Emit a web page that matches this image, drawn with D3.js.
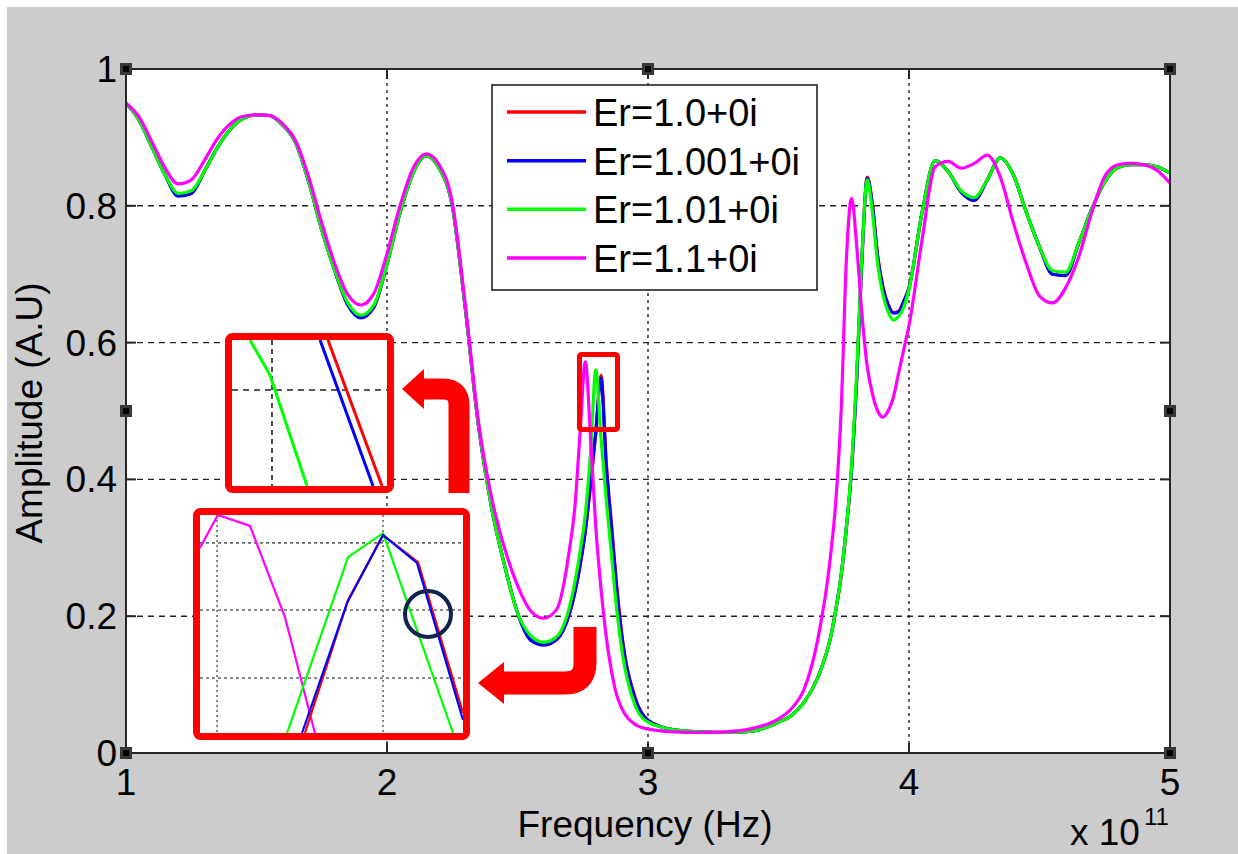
<!DOCTYPE html>
<html><head><meta charset="utf-8">
<script src="https://cdn.jsdelivr.net/npm/d3@7"></script>
<style>html,body{margin:0;padding:0;background:#fff;overflow:hidden}</style>
</head><body><svg id="c" width="1238" height="854"></svg>
<script>
// Frequency in units of 1e11 Hz
const freq = [1.00,1.05,1.10,1.15,1.20,1.25,1.30,1.35,1.40,1.45,1.50,1.55,1.60,1.65,1.70,1.75,1.80,1.85,1.90,1.95,2.00,2.05,2.10,2.15,2.20,2.25,2.30,2.35,2.40,2.45,2.50,2.55,2.60,2.65,2.70,
  2.72,2.74,2.76,2.78,2.80,2.82,2.84,2.86,2.88,2.90,2.95,3.00,3.10,3.20,3.30,3.40,3.50,3.55,3.60,3.65,3.70,
  3.72,3.74,3.76,3.78,3.80,3.82,3.84,3.86,3.88,3.90,3.92,3.94,3.96,3.98,4.00,
  4.05,4.10,4.15,4.20,4.25,4.30,4.35,4.40,4.45,4.50,4.55,4.60,4.65,4.70,4.75,4.80,4.85,4.90,4.95,5.00];

const ampEr1_0 = [0.950,0.925,0.885,0.845,0.815,0.818,0.850,0.885,0.912,0.928,0.933,0.932,0.918,0.892,0.835,0.765,0.705,0.655,0.637,0.652,0.715,0.790,0.848,0.873,0.855,0.800,0.650,0.480,0.360,0.275,0.205,0.166,0.158,0.166,0.205,
  0.235,0.275,0.325,0.392,0.468,0.552,0.425,0.335,0.245,0.173,0.082,0.048,0.034,0.031,0.030,0.032,0.045,0.055,0.075,0.110,0.170,
  0.210,0.258,0.328,0.415,0.550,0.725,0.842,0.802,0.727,0.682,0.656,0.644,0.646,0.661,0.680,
  0.790,0.866,0.850,0.820,0.808,0.838,0.870,0.845,0.790,0.740,0.700,0.698,0.745,0.795,0.835,0.856,0.860,0.860,0.857,0.848];

const ampEr1_001 = [0.950,0.925,0.885,0.845,0.814,0.818,0.850,0.885,0.912,0.928,0.933,0.932,0.918,0.892,0.835,0.765,0.705,0.655,0.636,0.652,0.715,0.790,0.848,0.873,0.855,0.800,0.650,0.480,0.360,0.275,0.205,0.165,0.158,0.166,0.205,
  0.235,0.275,0.325,0.395,0.470,0.548,0.420,0.330,0.240,0.170,0.080,0.048,0.034,0.031,0.030,0.032,0.045,0.055,0.075,0.110,0.170,
  0.210,0.260,0.330,0.415,0.550,0.725,0.840,0.800,0.725,0.680,0.655,0.643,0.645,0.660,0.680,
  0.790,0.866,0.850,0.820,0.808,0.838,0.870,0.845,0.790,0.740,0.700,0.698,0.745,0.795,0.835,0.856,0.860,0.860,0.857,0.848];

const ampEr1_01 = [0.950,0.925,0.885,0.845,0.818,0.822,0.850,0.885,0.912,0.928,0.933,0.932,0.918,0.892,0.835,0.765,0.705,0.658,0.640,0.655,0.715,0.790,0.848,0.873,0.855,0.800,0.650,0.480,0.360,0.275,0.205,0.172,0.162,0.170,0.215,
  0.250,0.295,0.350,0.440,0.560,0.460,0.370,0.290,0.210,0.150,0.070,0.045,0.034,0.031,0.030,0.032,0.045,0.055,0.075,0.110,0.170,
  0.210,0.260,0.330,0.420,0.560,0.730,0.838,0.790,0.715,0.670,0.645,0.633,0.638,0.652,0.678,
  0.790,0.866,0.850,0.822,0.812,0.838,0.870,0.845,0.790,0.740,0.705,0.703,0.745,0.795,0.835,0.856,0.860,0.860,0.857,0.848];

const ampEr1_1 = [0.950,0.930,0.893,0.855,0.832,0.838,0.866,0.898,0.920,0.931,0.933,0.932,0.920,0.895,0.842,0.775,0.715,0.670,0.655,0.672,0.730,0.800,0.855,0.876,0.860,0.805,0.655,0.485,0.375,0.300,0.245,0.208,0.197,0.210,0.300,
  0.360,0.470,0.572,0.460,0.330,0.240,0.170,0.120,0.085,0.065,0.042,0.035,0.031,0.030,0.031,0.036,0.050,0.065,0.095,0.165,0.290,
  0.370,0.500,0.720,0.811,0.740,0.640,0.565,0.525,0.500,0.491,0.500,0.520,0.555,0.590,0.625,
  0.750,0.857,0.865,0.855,0.862,0.874,0.842,0.775,0.715,0.668,0.658,0.680,0.725,0.790,0.843,0.860,0.862,0.860,0.852,0.833];

const seriesNames = ["Er=1.0+0i","Er=1.001+0i","Er=1.01+0i","Er=1.1+0i"];
const seriesColors = ["#ff0000","#0000ff","#00ff00","#ff00ff"];
const xTicks = [1,2,3,4,5];
const xTickLabels = ["1","2","3","4","5"];
const yTicks = [0,0.2,0.4,0.6,0.8,1];
const yTickLabels = ["0","0.2","0.4","0.6","0.8","1"];

// Zoomed insets (annotations), in normalized inset units [u, v] (v down)
const inset1Green = [[0.116,0],[0.245,0.24],[0.484,1]];
const inset1Blue  = [[0.568,0],[0.910,1]];
const inset1Red   = [[0.619,0],[0.968,1]];
const inset1GridU = [0.258];
const inset1GridV = [0.342];
const inset2Magenta = [[0,0.151],[0.068,0],[0.190,0.050],[0.323,0.468],[0.437,1]];
const inset2Green = [[0.331,1],[0.563,0.193],[0.696,0.083],[0.962,1]];
const inset2Red   = [[0.399,1],[0.563,0.390],[0.696,0.092],[0.829,0.216],[1,0.908]];
const inset2Blue  = [[0.388,1],[0.559,0.404],[0.696,0.092],[0.825,0.220],[1,0.94]];
const inset2GridU = [0.065,0.696];
const inset2GridV = [0.128,0.436,0.748];

const FONT = "'Liberation Sans', Arial, Helvetica, sans-serif";
const svg = d3.select("#c");
svg.append("rect").attr("x",7).attr("y",7).attr("width",1231).attr("height",847).attr("fill","#cccccc");

const L = 126, R = 1170, T = 69, B = 753;
const x = d3.scaleLinear().domain([1,5]).range([L,R]);
const y = d3.scaleLinear().domain([0,1]).range([B,T]);

svg.append("rect").attr("x",L).attr("y",T).attr("width",R-L).attr("height",B-T).attr("fill","#fff");

// grid
const grid = svg.append("g").attr("stroke","#222").attr("stroke-width",1.4);
grid.selectAll(".gx").data(xTicks.slice(1,-1)).join("line")
  .attr("x1",d=>x(d)).attr("x2",d=>x(d)).attr("y1",T).attr("y2",B).attr("stroke-dasharray","3,4");
grid.selectAll(".gy").data(yTicks.slice(1,-1)).join("line")
  .attr("y1",d=>y(d)).attr("y2",d=>y(d)).attr("x1",L).attr("x2",R).attr("stroke-dasharray","6,5");

// curves
svg.append("defs").append("clipPath").attr("id","pc").append("rect")
  .attr("x",L).attr("y",T).attr("width",R-L).attr("height",B-T);
const series = [ampEr1_0, ampEr1_001, ampEr1_01, ampEr1_1];
const line = d3.line().x((d,i)=>x(freq[i])).y(d=>y(d)).curve(d3.curveMonotoneX);
const cg = svg.append("g").attr("clip-path","url(#pc)");
series.forEach((s,k)=>{
  cg.append("path").attr("d",line(s)).attr("fill","none").attr("stroke",seriesColors[k])
    .attr("stroke-width",3.2).attr("stroke-linejoin","round");
});

// axes box + ticks
const ax = svg.append("g").attr("stroke","#262626").attr("stroke-width",2);
ax.append("rect").attr("x",L).attr("y",T).attr("width",R-L).attr("height",B-T).attr("fill","none");
const tl = 10;
xTicks.forEach(t=>{
  ax.append("line").attr("x1",x(t)).attr("x2",x(t)).attr("y1",B).attr("y2",B-tl);
  ax.append("line").attr("x1",x(t)).attr("x2",x(t)).attr("y1",T).attr("y2",T+tl);
});
yTicks.forEach(t=>{
  ax.append("line").attr("y1",y(t)).attr("y2",y(t)).attr("x1",L).attr("x2",L+tl);
  ax.append("line").attr("y1",y(t)).attr("y2",y(t)).attr("x1",R).attr("x2",R-tl);
});

// tick labels
const tg = svg.append("g").attr("font-family",FONT).attr("font-size",37).attr("fill","#000");
tg.selectAll(".xl").data(xTicks).join("text").attr("x",d=>x(d)).attr("y",795)
  .attr("text-anchor","middle").text((d,i)=>xTickLabels[i]);
tg.selectAll(".yl").data(yTicks).join("text").attr("x",117).attr("y",d=>y(d)+13)
  .attr("text-anchor","end").text((d,i)=>yTickLabels[i]);
tg.append("text").attr("x",645).attr("y",837).attr("text-anchor","middle").text("Frequency (Hz)");
tg.append("text").attr("transform","translate(42,413) rotate(-90)").attr("text-anchor","middle").text("Amplitude (A.U)");
tg.append("text").attr("x",1070).attr("y",845).text("x 10");
tg.append("text").attr("x",1144).attr("y",825).attr("font-size",24).text("11");

// selection handles
const hs = [[L,T],[648,T],[R,T],[L,411],[R,411],[L,B],[648,B],[R,B]];
svg.selectAll(".h").data(hs).join("rect").attr("x",d=>d[0]-6).attr("y",d=>d[1]-6)
  .attr("width",12).attr("height",12).attr("fill","#383838");
svg.selectAll(".h2").data(hs).join("rect").attr("x",d=>d[0]-3).attr("y",d=>d[1]-3)
  .attr("width",6).attr("height",6).attr("fill","#000");

// small red marker rectangle
svg.append("rect").attr("x",579.5).attr("y",354.5).attr("width",38).attr("height",75).attr("rx",2)
  .attr("fill","none").attr("stroke","#ff0000").attr("stroke-width",5);

// insets
function inset(box, gridU, gridV, dash, gridColor, lines, lw, id){
  const [x0,y0,x1,y1] = box; // inner area
  const u = d3.scaleLinear().domain([0,1]).range([x0,x1]);
  const v = d3.scaleLinear().domain([0,1]).range([y0,y1]);
  const g = svg.append("g");
  g.append("rect").attr("x",x0).attr("y",y0).attr("width",x1-x0).attr("height",y1-y0).attr("fill","#fff");
  g.append("clipPath").attr("id",id).append("rect").attr("x",x0).attr("y",y0).attr("width",x1-x0).attr("height",y1-y0);
  const gg = g.append("g").attr("clip-path",`url(#${id})`);
  gridU.forEach(a=>gg.append("line").attr("x1",u(a)).attr("x2",u(a)).attr("y1",y0).attr("y2",y1)
    .attr("stroke",gridColor).attr("stroke-width",1.6).attr("stroke-dasharray",dash[0]));
  gridV.forEach(a=>gg.append("line").attr("y1",v(a)).attr("y2",v(a)).attr("x1",x0).attr("x2",x1)
    .attr("stroke",gridColor).attr("stroke-width",1.6).attr("stroke-dasharray",dash[1]));
  const ln = d3.line().x(d=>u(d[0])).y(d=>v(d[1]));
  lines.forEach(([pts,col])=>gg.append("path").attr("d",ln(pts)).attr("fill","none")
    .attr("stroke",col).attr("stroke-width",lw).attr("stroke-linejoin","round"));
  g.append("rect").attr("x",x0-3.5).attr("y",y0-3.5).attr("width",x1-x0+7).attr("height",y1-y0+7)
    .attr("rx",4).attr("fill","none").attr("stroke","#ff0000").attr("stroke-width",7);
}
inset([232,340,387,486], inset1GridU, inset1GridV, ["5,4","6,5"], "#222",
  [[inset1Green,"#00ff00"],[inset1Blue,"#0000ff"],[inset1Red,"#ff0000"]], 3, "ic1");
inset([200,515,463,733], inset2GridU, inset2GridV, ["2,3","3,3"], "#666",
  [[inset2Magenta,"#ff00ff"],[inset2Green,"#00ff00"],[inset2Red,"#ff0000"],[inset2Blue,"#0000ff"]], 2.2, "ic2");

// navy circle
svg.append("circle").attr("cx",428).attr("cy",614).attr("r",23).attr("fill","none")
  .attr("stroke","#0f2350").attr("stroke-width",4);

// bent arrows
function bentArrow(xv, yTop, yh, xBase, tipX, halfHead, w, r){
  svg.append("path").attr("d",`M${xv},${yTop} L${xv},${yh+r*(yTop>yh?1:-1)} Q${xv},${yh} ${xv-r},${yh} L${xBase},${yh}`)
    .attr("fill","none").attr("stroke","#ff0000").attr("stroke-width",w);
  svg.append("path").attr("d",`M${tipX},${yh} L${xBase+1},${yh-halfHead} L${xBase+1},${yh+halfHead} Z`).attr("fill","#ff0000");
}
bentArrow(459, 493, 389, 423, 402, 20, 21, 16);
bentArrow(585, 627, 683, 503, 478, 21, 23, 20);

// legend
const lg = svg.append("g");
lg.append("rect").attr("x",492).attr("y",85).attr("width",325).attr("height",205)
  .attr("fill","#fff").attr("stroke","#222").attr("stroke-width",1.6);
const rowY = d3.scalePoint().domain(seriesNames).range([112,258]);
seriesNames.forEach((n,k)=>{
  lg.append("line").attr("x1",507).attr("x2",586).attr("y1",rowY(n)).attr("y2",rowY(n))
    .attr("stroke",seriesColors[k]).attr("stroke-width",3.5);
  lg.append("text").attr("x",593).attr("y",rowY(n)+14).attr("font-family",FONT).attr("font-size",38)
    .attr("fill","#000").text(n);
});
</script></body></html>
